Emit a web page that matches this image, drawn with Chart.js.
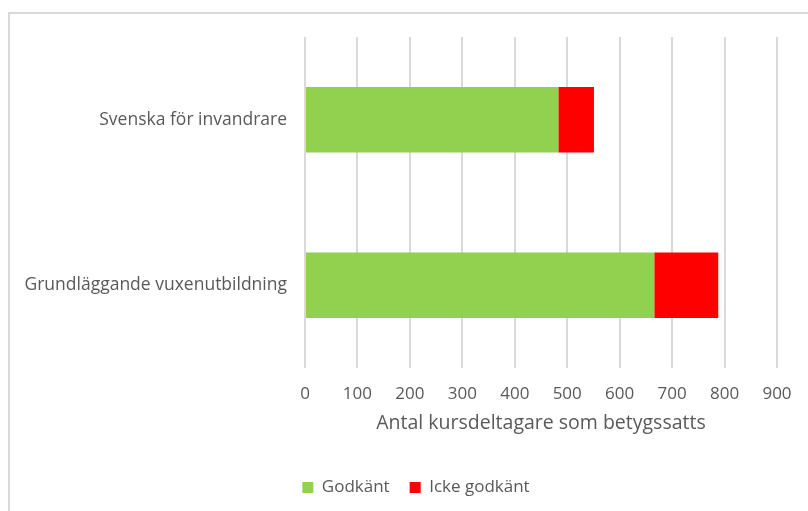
<!DOCTYPE html>
<html lang="sv">
<head>
<meta charset="utf-8">
<title>Kursdeltagare som betygssatts</title>
<script src="https://cdn.jsdelivr.net/npm/chart.js@4.4.1/dist/chart.umd.min.js"></script>
<style>
  html, body { margin: 0; padding: 0; background: #fff; overflow: hidden; }
  #wrap { position: relative; width: 808px; height: 511px; overflow: hidden; }
  /* ram runt diagrammet (bara vänster- och överkant syns) */
  #frame {
    position: absolute; left: 8px; top: 12px; width: 900px; height: 600px;
    border-left: 2px solid #d9d9d9; border-top: 2px solid #d9d9d9;
    box-sizing: border-box; pointer-events: none;
  }
  #chart { position: absolute; left: 0; top: 0; }
</style>
</head>
<body>
<div id="wrap">
  <canvas id="chart" width="832" height="511"></canvas>
  <div id="frame"></div>
</div>
<script>
// kategorier och värden
const kurser = ['Svenska för invandrare', 'Grundläggande vuxenutbildning'];
const godkant = [483, 666];
const ickeGodkant = [68, 122];
const xTicks = [0, 100, 200, 300, 400, 500, 600, 700, 800, 900];

const textColor = '#595959';
const fontFamily = '"Open Sans", "Liberation Sans", sans-serif';
const rightPad = 55;

// legenden centreras över hela ramen, inte bara över diagramytan
const legendShift = {
  id: 'legendShift',
  afterLayout(chart) {
    if (!chart.legend) return;
    chart.legend.left += rightPad / 2;
    chart.legend.right += rightPad / 2;
  },
};

const ctx = document.getElementById('chart').getContext('2d');
new Chart(ctx, {
  type: 'bar',
  data: {
    labels: kurser,
    datasets: [
      {
        label: 'Godkänt',
        data: godkant,
        backgroundColor: '#92d050',
        borderWidth: 0,
        barPercentage: 0.395,
        categoryPercentage: 1,
      },
      {
        label: 'Icke godkänt',
        data: ickeGodkant,
        backgroundColor: '#ff0000',
        borderWidth: 0,
        barPercentage: 0.395,
        categoryPercentage: 1,
      },
    ],
  },
  options: {
    indexAxis: 'y',
    responsive: false,
    animation: false,
    layout: {
      padding: { top: 37, right: rightPad, bottom: 5, left: 0 },
    },
    plugins: {
      legend: {
        position: 'bottom',
        labels: {
          color: textColor,
          font: { family: fontFamily, size: 17 },
          boxWidth: 11,
          boxHeight: 11,
          padding: 20,
        },
      },
      tooltip: { enabled: false },
    },
    scales: {
      x: {
        stacked: true,
        min: 0,
        max: 900,
        afterBuildTicks: (scale) => {
          scale.ticks = xTicks.map(v => ({ value: v }));
        },
        grid: { color: '#d9d9d9', lineWidth: 2, drawTicks: false },
        border: { display: false },
        ticks: {
          color: textColor,
          font: { family: fontFamily, size: 17 },
          padding: 16,
          maxRotation: 0,
        },
        title: {
          display: true,
          text: 'Antal kursdeltagare som betygssatts',
          color: textColor,
          font: { family: fontFamily, size: 19.5 },
          padding: { top: 0, bottom: 24 },
        },
        // fast höjd för x-axeln så att diagramytan slutar på rätt ställe
        afterFit: (scale) => {
          scale.height = 91;
        },
      },
      y: {
        stacked: true,
        grid: { display: false, drawTicks: false },
        border: { display: false },
        ticks: {
          color: textColor,
          font: { family: fontFamily, size: 17.5 },
          padding: 18,
        },
        afterFit: (scale) => {
          scale.width = 305;
        },
      },
    },
  },
  plugins: [legendShift],
});
</script>
</body>
</html>
